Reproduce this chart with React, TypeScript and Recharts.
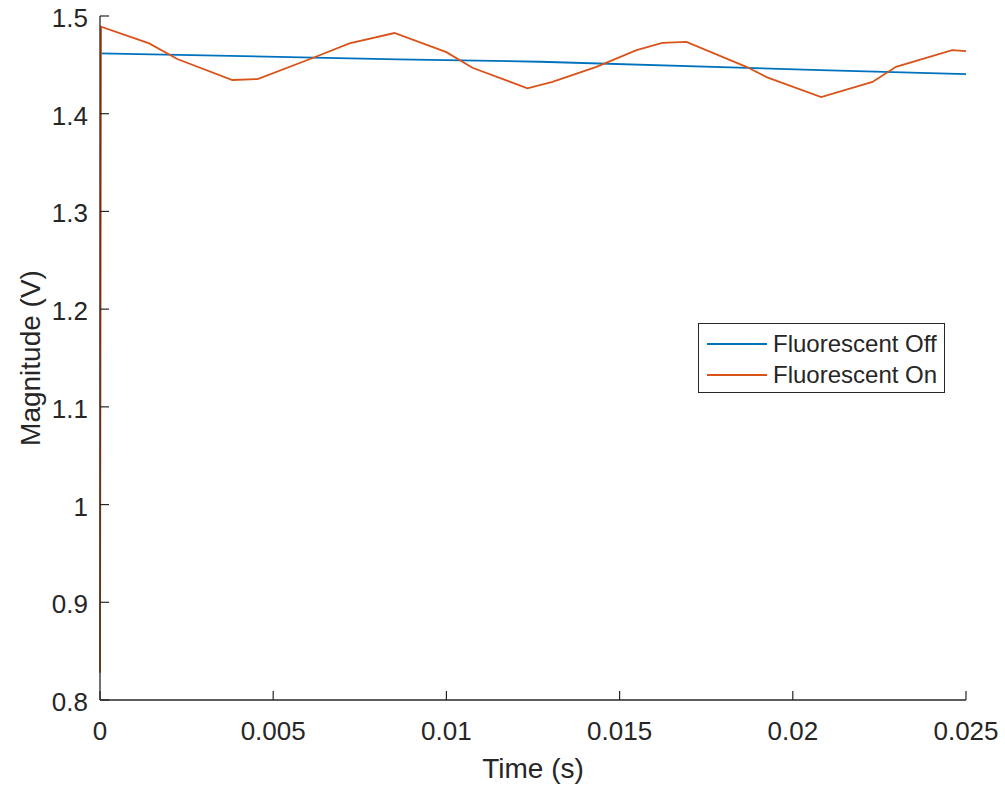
import { Legend, Line, LineChart, XAxis, YAxis } from 'recharts';

const offTime = [0, 0.0086, 0.0127, 0.0208, 0.025];
const offValues = [1.4618, 1.4557, 1.4532, 1.4447, 1.4406];

const onTime = [
  0, 0.00003, 0.00142, 0.00223, 0.00382, 0.00455, 0.00614, 0.0072, 0.0085, 0.01, 0.01075, 0.01234, 0.01306,
  0.01433, 0.01549, 0.01623, 0.01693, 0.01866, 0.01924, 0.02082, 0.0223, 0.02298, 0.0246, 0.025,
];
const onValues = [
  0.828, 1.489, 1.472, 1.456, 1.4345, 1.4355, 1.457, 1.472, 1.4826, 1.463, 1.447, 1.426, 1.4325,
  1.448, 1.465, 1.4725, 1.4736, 1.448, 1.4375, 1.417, 1.4325, 1.448, 1.465, 1.464,
];

const xTicks = [0, 0.005, 0.01, 0.015, 0.02, 0.025];
const yTicks = [0.8, 0.9, 1, 1.1, 1.2, 1.3, 1.4, 1.5];

const seriesNames = ['Fluorescent Off', 'Fluorescent On'];
const seriesColors = ['#0072BD', '#D95319'];

const offData = offTime.map((t, i) => ({ t, v: offValues[i] }));
const onData = onTime.map((t, i) => ({ t, v: onValues[i] }));

const INK = '#262626';
const FONT = '"Liberation Sans", Arial, sans-serif';
const TICK_LEN = 9;

const fmt = (v: number) => String(Number(v.toFixed(4)));

function BottomTick({ x, y, payload }: any) {
  return (
    <g>
      <line x1={x} y1={y} x2={x} y2={y - TICK_LEN} stroke={INK} strokeWidth={1.2} />
      <text x={x} y={y + 40} textAnchor="middle" fill={INK} fontSize={26} fontFamily={FONT}>
        {fmt(payload.value)}
      </text>
    </g>
  );
}

function LeftTick({ x, y, payload }: any) {
  return (
    <g>
      <line x1={x} y1={y} x2={x + TICK_LEN} y2={y} stroke={INK} strokeWidth={1.2} />
      <text x={x - 12} y={y + 11} textAnchor="end" fill={INK} fontSize={26} fontFamily={FONT}>
        {fmt(payload.value)}
      </text>
    </g>
  );
}

function TopTick({ x, y }: any) {
  return <line x1={x} y1={y} x2={x} y2={y + TICK_LEN} stroke={INK} strokeWidth={1.2} />;
}

function RightTick({ x, y }: any) {
  return <line x1={x} y1={y} x2={x - TICK_LEN} y2={y} stroke={INK} strokeWidth={1.2} />;
}

function LegendBox({ payload }: any) {
  return (
    <div
      style={{
        border: `1px solid ${INK}`,
        background: '#fff',
        width: 247,
        height: 70,
        paddingTop: 4,
        boxSizing: 'border-box',
        fontFamily: FONT,
      }}
    >
      {(payload ?? []).map((item: any) => (
        <div key={item.value} style={{ display: 'flex', alignItems: 'center', height: 31 }}>
          <div style={{ width: 60, height: 2, background: item.color, marginLeft: 8, marginRight: 6 }} />
          <span style={{ fontSize: 24, color: INK }}>{item.value}</span>
        </div>
      ))}
    </div>
  );
}

export default function App() {
  return (
    <div style={{ position: 'absolute', left: 0, top: 0, width: 1005, height: 788, background: '#fff' }}>
      <LineChart width={1005} height={788} margin={{ top: 16, right: 39, bottom: 0, left: 0 }}>
        <XAxis
          dataKey="t"
          type="number"
          domain={[0, 0.025]}
          ticks={xTicks}
          height={88}
          axisLine={{ stroke: INK, strokeWidth: 1.3 }}
          tickLine={false}
          tickSize={0}
          tickMargin={0}
          tick={<BottomTick />}
          label={{ value: 'Time (s)', position: 'insideBottom', offset: 10, fill: INK, fontSize: 28, fontFamily: FONT }}
        />
        <XAxis
          xAxisId="top"
          orientation="top"
          dataKey="t"
          type="number"
          domain={[0, 0.025]}
          ticks={xTicks}
          height={0}
          axisLine={{ stroke: INK, strokeWidth: 1.3 }}
          tickLine={false}
          tickSize={0}
          tickMargin={0}
          tick={<TopTick />}
        />
        <YAxis
          type="number"
          domain={[0.8, 1.5]}
          ticks={yTicks}
          width={100}
          axisLine={{ stroke: INK, strokeWidth: 1.3 }}
          tickLine={false}
          tickSize={0}
          tickMargin={0}
          tick={<LeftTick />}
          label={({ viewBox }: any) => {
            const cx = viewBox.x + 40;
            const cy = viewBox.y + viewBox.height / 2;
            return (
              <text
                x={cx}
                y={cy}
                transform={`rotate(-90, ${cx}, ${cy})`}
                textAnchor="middle"
                fill={INK}
                fontSize={28}
                fontFamily={FONT}
              >
                Magnitude (V)
              </text>
            );
          }}
        />
        <YAxis
          yAxisId="right"
          orientation="right"
          type="number"
          domain={[0.8, 1.5]}
          ticks={yTicks}
          width={0}
          axisLine={{ stroke: INK, strokeWidth: 1.3 }}
          tickLine={false}
          tickSize={0}
          tickMargin={0}
          tick={<RightTick />}
        />
        <Legend
          layout="vertical"
          align="center"
          verticalAlign="middle"
          content={<LegendBox />}
          wrapperStyle={{ left: 698, top: 323, width: 'auto', height: 'auto' }}
        />
        <Line
          data={offData}
          dataKey="v"
          name={seriesNames[0]}
          stroke={seriesColors[0]}
          strokeWidth={1.8}
          dot={false}
          activeDot={false}
          isAnimationActive={false}
        />
        <Line
          data={onData}
          dataKey="v"
          name={seriesNames[1]}
          stroke={seriesColors[1]}
          strokeWidth={1.8}
          dot={false}
          activeDot={false}
          isAnimationActive={false}
        />
      </LineChart>
    </div>
  );
}
